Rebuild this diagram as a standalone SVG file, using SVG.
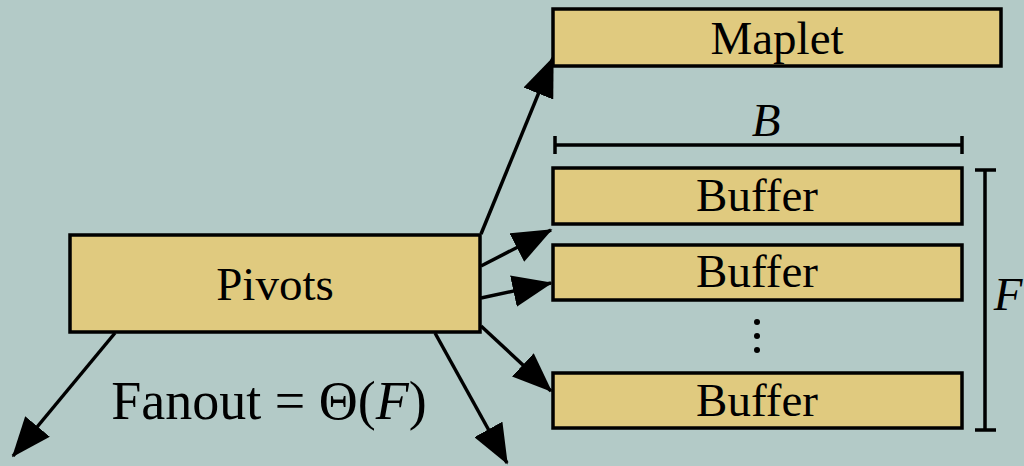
<svg xmlns="http://www.w3.org/2000/svg" width="1024" height="466" viewBox="0 0 1024 466">
  <style>
    .box { fill: #e0ca7f; stroke: #000; stroke-width: 3.5; }
    .lbl { font-family: "Liberation Serif", serif; font-size: 47px; fill: #000; text-anchor: middle; }
    .it { font-style: italic; }
    .edge { stroke: #000; stroke-width: 3.5; fill: none; marker-end: url(#head); }
    .dim { stroke: #000; stroke-width: 3.5; fill: none; }
  </style>
  <defs>
    <marker id="head" viewBox="0 0 10 8" refX="9.6" refY="4" markerWidth="40" markerHeight="32" markerUnits="userSpaceOnUse" orient="auto">
      <path d="M0,0 L10,4 L0,8 z" fill="#000"/>
    </marker>
  </defs>
  <rect width="1024" height="466" fill="#b3cac7"/>

  <g id="connectors">
    <line class="edge" x1="481" y1="234" x2="553" y2="58"/>
    <line class="edge" x1="481" y1="266" x2="551" y2="230"/>
    <line class="edge" x1="481" y1="298" x2="551" y2="283"/>
    <line class="edge" x1="481" y1="326" x2="551" y2="391"/>
    <line class="edge" x1="115" y1="333" x2="13" y2="456"/>
    <line class="edge" x1="435" y1="333" x2="507" y2="463"/>
  </g>

  <g id="pivots">
    <rect class="box" x="70" y="235" width="410" height="97"/>
    <text class="lbl" x="275" y="300">Pivots</text>
  </g>

  <g id="maplet">
    <rect class="box" x="553" y="9" width="448" height="57"/>
    <text class="lbl" x="777" y="54">Maplet</text>
  </g>

  <g id="buffer1">
    <rect class="box" x="553" y="168" width="409" height="56"/>
    <text class="lbl" x="757" y="211">Buffer</text>
  </g>

  <g id="buffer2">
    <rect class="box" x="553" y="245" width="409" height="55"/>
    <text class="lbl" x="757" y="287">Buffer</text>
  </g>

  <g id="ellipsis">
    <circle cx="757" cy="322" r="3" fill="#000"/>
    <circle cx="757" cy="336" r="3" fill="#000"/>
    <circle cx="757" cy="350" r="3" fill="#000"/>
  </g>

  <g id="buffer3">
    <rect class="box" x="553" y="373" width="409" height="55"/>
    <text class="lbl" x="757" y="416">Buffer</text>
  </g>

  <g id="width-B">
    <path class="dim" d="M555,145 H962 M555,136 V154 M962,136 V154"/>
    <text class="lbl it" x="766" y="136">B</text>
  </g>

  <g id="height-F">
    <path class="dim" d="M985,170 V430 M975,170 H996 M975,430 H996"/>
    <text class="lbl it" x="1008" y="310">F</text>
  </g>

  <g id="fanout">
    <text class="lbl" x="269" y="419" style="font-size:54px">Fanout = Θ(<tspan class="it">F</tspan>)</text>
  </g>
</svg>
